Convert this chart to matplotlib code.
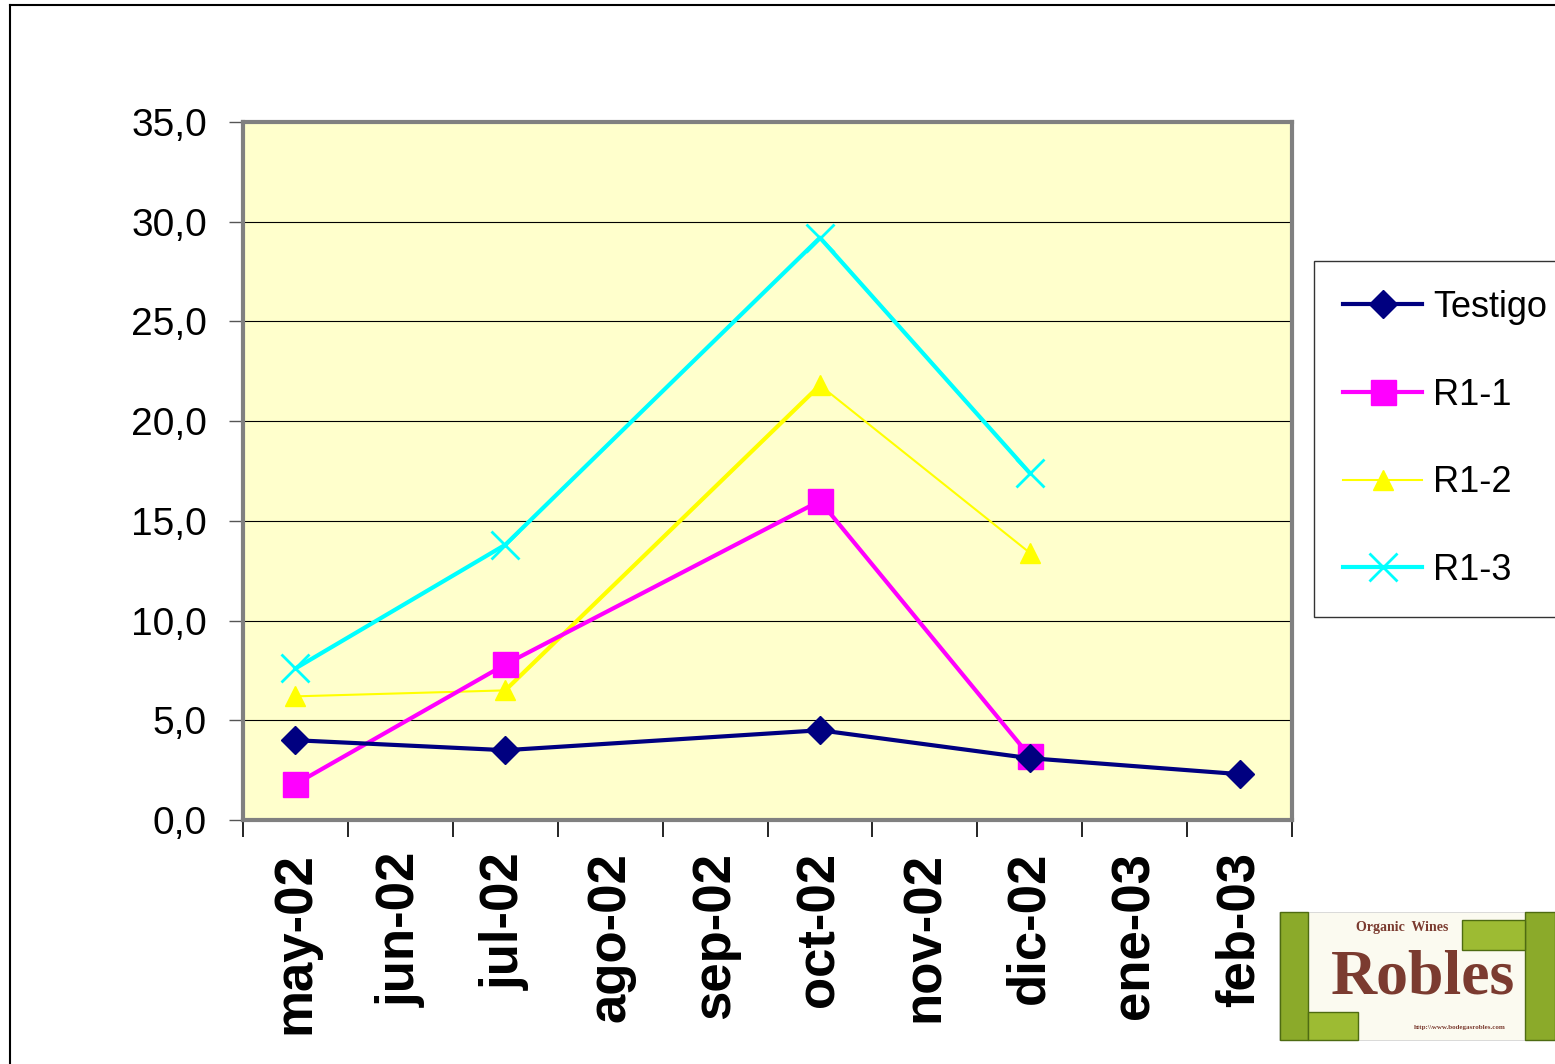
import matplotlib
matplotlib.use('Agg')
import matplotlib.pyplot as plt
from matplotlib.patches import Rectangle
from matplotlib.lines import Line2D

months = ['may-02', 'jun-02', 'jul-02', 'ago-02', 'sep-02',
          'oct-02', 'nov-02', 'dic-02', 'ene-03', 'feb-03']

# sampling dates (index into months) and values per series
testigo_idx = [0, 2, 5, 7, 9]
testigo = [4.0, 3.5, 4.5, 3.1, 2.3]
r11_idx = [0, 2, 5, 7]
r11 = [1.8, 7.8, 16.0, 3.2]
r12_idx = [0, 2, 5, 7]
r12 = [6.2, 6.5, 21.8, 13.4]
r13_idx = [0, 2, 5, 7]
r13 = [7.6, 13.8, 29.2, 17.4]

yticks = [0, 5, 10, 15, 20, 25, 30, 35]
ytick_labels = ['0,0', '5,0', '10,0', '15,0', '20,0', '25,0', '30,0', '35,0']

plt.rcParams['font.family'] = ['Liberation Sans', 'DejaVu Sans']

fig = plt.figure(figsize=(15.55, 10.64), dpi=100)
ax = fig.add_axes([243 / 1555, 1 - 820 / 1064, (1292 - 243) / 1555, (820 - 122) / 1064])
ax.set_facecolor('#FFFFCC')

# outer chart-area frame (runs off right/bottom edges)
fig.add_artist(Line2D([10 / 1555, 1.1], [1 - 5 / 1064, 1 - 5 / 1064], color='black', lw=1.5))
fig.add_artist(Line2D([10 / 1555, 10 / 1555], [-0.1, 1 - 5 / 1064], color='black', lw=1.5))

ax.plot(testigo_idx, testigo, color='#000080', lw=3, marker='D', ms=14, label='Testigo', zorder=5)
ax.plot(r11_idx, r11, color='#FF00FF', lw=3, marker='s', ms=18, label='R1-1', zorder=4)
ax.plot(r12_idx, r12, color='#FFFF00', lw=1.5, marker='^', ms=15, label='R1-2', zorder=3)
# the jul->oct stretch of R1-2 is drawn heavier in the original
ax.plot(r12_idx[1:3], r12[1:3], color='#FFFF00', lw=3, zorder=3)
ax.plot(r13_idx, r13, color='#00FFFF', lw=3, marker='x', ms=20, mew=2, label='R1-3', zorder=2)

ax.set_xlim(-0.5, 9.5)
ax.set_ylim(0, 35)
ax.set_yticks(yticks)
ax.set_yticklabels(ytick_labels, fontsize=28)
ax.yaxis.grid(True, color='black', lw=0.8)
ax.set_axisbelow(True)
ax.tick_params(axis='y', length=10, width=1, color='#555555', pad=16)

ax.set_xticks(range(len(months)))
ax.set_xticklabels(months, rotation=90, fontsize=38, fontweight='bold')
ax.set_xticks([i - 0.5 for i in range(len(months) + 1)], minor=True)
ax.tick_params(axis='x', which='major', length=0, pad=23)
ax.tick_params(axis='x', which='minor', length=12, width=1.2, color='black')

for side in ['left', 'bottom', 'top', 'right']:
    ax.spines[side].set_color('#808080')
    ax.spines[side].set_linewidth(3)

leg = fig.legend(loc='upper left', bbox_to_anchor=(1314 / 1555, 1 - 261 / 1064),
                 fontsize=26, frameon=True, fancybox=False, edgecolor='black',
                 handlelength=2.2, labelspacing=1.46, borderpad=0.8, handletextpad=0.3,
                 borderaxespad=0)
leg.get_frame().set_linewidth(1)

# logo block (bottom right)
lx0, ly0, lx1, ly1 = 1279 / 1555, 1 - 1040 / 1064, 1.0, 1 - 912 / 1064
fig.add_artist(Rectangle((lx0, ly0), lx1 - lx0, ly1 - ly0, transform=fig.transFigure,
                         facecolor='#FBFAF0', edgecolor='#cccccc', lw=0.5))
for (bx, bw) in [(1280, 28), (1525, 30)]:
    fig.add_artist(Rectangle((bx / 1555, ly0), bw / 1555, ly1 - ly0, transform=fig.transFigure,
                             facecolor='#8BAA2A', edgecolor='#4E6B12', lw=1))
fig.add_artist(Rectangle((1462 / 1555, 1 - 950 / 1064), 63 / 1555, 30 / 1064,
                         transform=fig.transFigure, facecolor='#9DBB33', edgecolor='#4E6B12', lw=1))
fig.add_artist(Rectangle((1308 / 1555, 1 - 1040 / 1064), 50 / 1555, 28 / 1064,
                         transform=fig.transFigure, facecolor='#9DBB33', edgecolor='#4E6B12', lw=1))
fig.text(1402 / 1555, 1 - 927 / 1064, 'Organic  Wines', ha='center', va='center',
         fontsize=10, fontweight='bold', family='Liberation Serif', color='#7B3B30')
fig.text(1423 / 1555, 1 - 978 / 1064, 'Robles', ha='center', va='center',
         fontsize=46, fontweight='bold', family='Liberation Serif', color='#7B3B30')
fig.text(1460 / 1555, 1 - 1027 / 1064, 'http:\\\\www.bodegasrobles.com', ha='center', va='center',
         fontsize=5, fontweight='bold', family='Liberation Serif', color='#7B3B30')

fig.savefig('out.png', dpi=100)
